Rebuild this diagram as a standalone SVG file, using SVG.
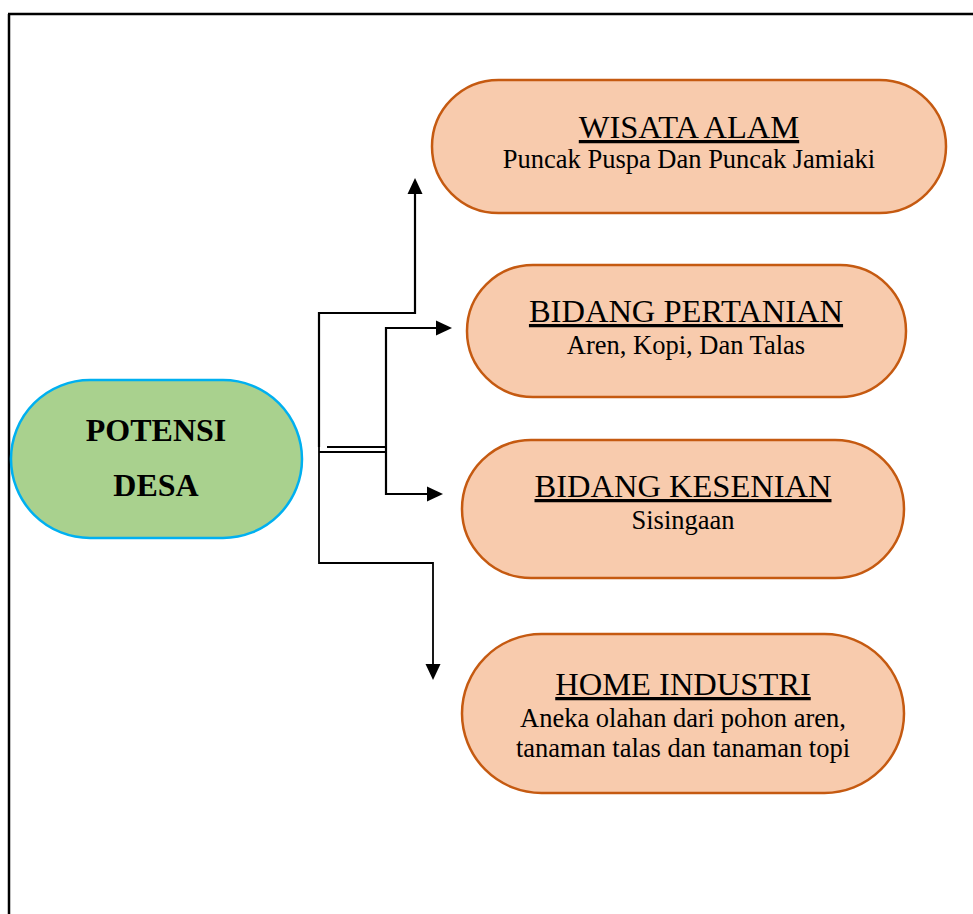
<svg xmlns="http://www.w3.org/2000/svg" width="973" height="914" viewBox="0 0 973 914">
<defs>
<style>
.frame{fill:none;stroke:#000;stroke-width:2.5}
.pill{fill:#f8cbad;stroke:#c55a11;stroke-width:2.5}
.main{fill:#a9d18e;stroke:#00b0f0;stroke-width:2.5}
.ln{fill:none;stroke:#000;stroke-width:2.2}
.ah{fill:#000}
.ttl{font-family:"Liberation Serif","Times New Roman",serif;font-size:32.5px;text-anchor:middle;fill:#000;text-decoration:underline}
.sub{font-family:"Liberation Serif","Times New Roman",serif;font-size:26.5px;text-anchor:middle;fill:#000}
.bold{font-family:"Liberation Serif","Times New Roman",serif;font-size:32px;font-weight:bold;text-anchor:middle;fill:#000}
</style>
</defs>
<rect width="973" height="914" fill="#fff"/>
<path class="frame" d="M8,14 H973 M9,14 V914"/>
<g id="connectors">
<path class="ln" d="M319,447 V313 H415 V193"/>
<path class="ah" d="M407.5,194 L415,178 L422.5,194 Z"/>
<path class="ln" d="M386,452 V328 H437"/>
<path class="ah" d="M436,320.5 L452,328 L436,335.5 Z"/>
<path class="ln" d="M386,452 V494 H428"/>
<path class="ah" d="M427,486.5 L443,494 L427,501.5 Z"/>
<path class="ln" d="M327,447 H386 M319,452 H386"/>
<path class="ln" d="M319,447 V563 H433 V665" style="stroke-width:1.8"/>
<path class="ah" d="M425.5,664 L433,680 L440.5,664 Z"/>
</g>
<g id="potensi-desa">
<rect class="main" x="11" y="380" width="291" height="158" rx="79" ry="79"/>
<text class="bold" x="156" y="441">POTENSI</text>
<text class="bold" x="156" y="496">DESA</text>
</g>
<g id="wisata-alam">
<rect class="pill" x="432" y="80" width="514" height="133" rx="66.5" ry="66.5"/>
<text class="ttl" x="689" y="138">WISATA ALAM</text>
<text class="sub" x="689" y="168">Puncak Puspa Dan Puncak Jamiaki</text>
</g>
<g id="bidang-pertanian">
<rect class="pill" x="467" y="265" width="439" height="132" rx="66" ry="66"/>
<text class="ttl" x="686" y="322">BIDANG PERTANIAN</text>
<text class="sub" x="686" y="354">Aren, Kopi, Dan Talas</text>
</g>
<g id="bidang-kesenian">
<rect class="pill" x="462" y="440" width="442" height="138" rx="69" ry="69"/>
<text class="ttl" x="683" y="497">BIDANG KESENIAN</text>
<text class="sub" x="683" y="529">Sisingaan</text>
</g>
<g id="home-industri">
<rect class="pill" x="462" y="634" width="442" height="159" rx="79.5" ry="79.5"/>
<text class="ttl" x="683" y="695">HOME INDUSTRI</text>
<text class="sub" x="683" y="727">Aneka olahan dari pohon aren,</text>
<text class="sub" x="683" y="757">tanaman talas dan tanaman topi</text>
</g>
</svg>
